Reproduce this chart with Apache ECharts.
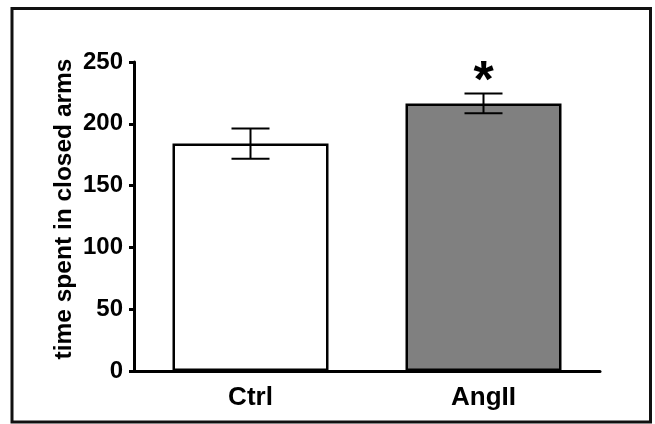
<!DOCTYPE html>
<html>
<head>
<meta charset="utf-8">
<script src="https://cdn.jsdelivr.net/npm/echarts@6/dist/echarts.min.js"></script>
<style>
html,body{margin:0;padding:0;background:#fff;}
#chart{width:655px;height:424px;}
</style>
</head>
<body>
<div id="chart"></div>
<script>
const categories = ['Ctrl', 'AngII'];
const means = [184, 216.5];
const sems = [12.2, 8];
const marks = ['', '*'];
const barColors = ['#ffffff', '#808080'];
const yTicks = [0, 50, 100, 150, 200, 250];

const FONT = '"Liberation Sans", Arial, Helvetica, sans-serif';
const chart = echarts.init(document.getElementById('chart'));

const barData = means.map((v, i) => ({
  value: v,
  itemStyle: { color: barColors[i] }
}));
const errData = means.map((v, i) => [i, v, sems[i], marks[i]]);

chart.setOption({
  backgroundColor: '#ffffff',
  animation: false,
  grid: { left: 134, right: 55, top: 62, bottom: 53 },
  graphic: [{
    type: 'rect',
    shape: { x: 12, y: 8.5, width: 638.5, height: 413.5 },
    style: { fill: 'none', stroke: '#111', lineWidth: 3 },
    silent: true
  }],
  xAxis: {
    type: 'category',
    data: categories,
    axisLine: { lineStyle: { color: '#000', width: 3 } },
    axisTick: { alignWithLabel: true, length: 4, lineStyle: { color: '#000', width: 3 } },
    axisLabel: { color: '#000', fontFamily: FONT, fontWeight: 'bold', fontSize: 26, margin: 14 },
    splitLine: { show: false }
  },
  yAxis: {
    type: 'value',
    min: yTicks[0],
    max: yTicks[yTicks.length - 1],
    interval: yTicks[1] - yTicks[0],
    name: 'time spent in closed arms',
    nameLocation: 'middle',
    nameGap: 57,
    nameMoveOverlap: false,
    nameTextStyle: { color: '#000', fontFamily: FONT, fontWeight: 'bold', fontSize: 24.5, padding: [0, 0, 0, 15] },
    axisLine: { show: true, lineStyle: { color: '#000', width: 3 } },
    axisTick: { show: true, length: 5, lineStyle: { color: '#000', width: 3 } },
    axisLabel: { color: '#000', fontFamily: FONT, fontWeight: 'bold', fontSize: 24, margin: 11 },
    splitLine: { show: false }
  },
  series: [{
    type: 'bar',
    data: barData,
    barWidth: 156,
    itemStyle: { borderColor: '#000', borderWidth: 2.5 },
    z: 2
  }, {
    type: 'custom',
    data: errData,
    z: 5,
    renderItem: function (params, api) {
      const idx = api.value(0);
      const m = api.value(1);
      const s = api.value(2);
      const top = api.coord([idx, m + s]);
      const bot = api.coord([idx, m - s]);
      const hw = 19;
      const children = [
        { type: 'line', shape: { x1: top[0], y1: top[1], x2: bot[0], y2: bot[1] }, style: { stroke: '#000', lineWidth: 2 } },
        { type: 'line', shape: { x1: top[0] - hw, y1: top[1], x2: top[0] + hw, y2: top[1] }, style: { stroke: '#000', lineWidth: 2 } },
        { type: 'line', shape: { x1: bot[0] - hw, y1: bot[1], x2: bot[0] + hw, y2: bot[1] }, style: { stroke: '#000', lineWidth: 2 } }
      ];
      const mk = marks[params.dataIndex];
      if (mk) {
        children.push({
          type: 'text',
          style: {
            text: mk, x: top[0], y: top[1] - 11,
            fill: '#000', font: 'bold 52px ' + FONT,
            align: 'center', verticalAlign: 'middle'
          }
        });
      }
      return { type: 'group', children: children };
    }
  }]
});
</script>
</body>
</html>
